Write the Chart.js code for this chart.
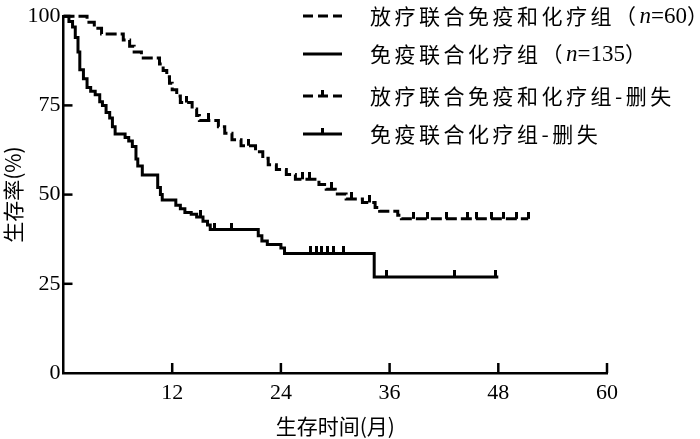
<!DOCTYPE html>
<html>
<head>
<meta charset="utf-8">
<script src="https://cdn.jsdelivr.net/npm/chart.js@4.4.0/dist/chart.umd.min.js"></script>
<style>
html,body{margin:0;padding:0;background:#fff;}
#wrap{width:700px;height:439px;}
</style>
</head>
<body>
<div id="wrap"><canvas id="kmChart" width="700" height="439"></canvas></div>
<script>
// 放疗联合免疫和化疗组 (n=60) - 生存时间(月) / 生存率(%)
var rtTimes = [0, 2.6, 3.4, 4.2, 6.6, 7.3, 7.8, 8.6, 10.6, 11.0, 11.4, 11.7, 12.0, 12.5, 12.9, 14.2, 14.7, 15.0,
               17.1, 17.8, 18.6, 19.6, 21.2, 22.0, 22.6, 23.5, 24.6, 25.6, 28.2, 29.0, 30.0, 31.2, 33.0, 34.4, 34.9, 36.9, 37.3];
var rtSurv  = [100, 98.3, 96.6, 95, 93.3, 91.6, 90, 88.3, 86.6, 84.8, 83, 81.2, 79.4, 77.6, 75.8, 74.0, 72.2, 70.8,
               69.0, 67.2, 65.4, 63.7, 62.0, 60.2, 58.4, 57.0, 55.6, 54.3, 52.8, 51.5, 50.2, 48.8, 47.8, 46.4, 45.3, 44.2, 43.2];
var rtEnd = 51.3;
var rtCensor = [13.6, 16.0, 20.4, 26.4, 27.2, 29.6, 31.8, 33.8, 38.6, 40.2, 42.3, 44.6, 45.6, 47.2, 48.6, 50.0, 51.3];

// 免疫联合化疗组 (n=135)
var icTimes = [0, 0.6, 1.0, 1.3, 1.6, 1.8, 2.2, 2.6, 3.0, 3.5, 4.0, 4.3, 4.7, 5.1, 5.4, 5.7, 6.8, 7.2, 7.6, 8.0, 8.2, 8.7,
               10.4, 10.7, 10.9, 12.4, 12.9, 13.4, 14.1, 14.7, 15.4, 15.9, 16.2, 21.5, 21.9, 22.5, 24.0, 24.4, 34.3];
var icSurv  = [100, 98.5, 97, 94, 90, 85, 82.5, 80, 79, 78, 76, 75, 73, 71.5, 69, 67, 66, 65, 63.5, 60, 58, 55.5,
               52, 50, 48.5, 47, 46, 45, 44.5, 43.7, 42.5, 41.5, 40.2, 38.5, 37, 36, 35, 33.5, 26.9];
var icEnd = 48.0;
var icCensor = [15.1, 16.7, 18.6, 27.3, 27.9, 28.5, 29.1, 29.8, 30.9, 35.7, 43.2, 47.7];

var xTicks = [12, 24, 36, 48, 60];
var yTicks = [0, 25, 50, 75, 100];

var legendLabels = [
  ['放疗联合免疫和化疗组（', 'n', '=60）'],
  ['免疫联合化疗组（', 'n', '=135）'],
  ['放疗联合免疫和化疗组-删失'],
  ['免疫联合化疗组-删失']
];

function stepPoints(times, surv, end){
  var pts = [];
  for(var i=0; i<times.length; i++){
    pts.push({x: times[i], y: surv[i]});
  }
  pts.push({x: end, y: surv[surv.length-1]});
  return pts;
}

// value of the step curve at time t
function levelAt(times, surv, t){
  var v = surv[0];
  for(var i=0; i<times.length; i++){
    if(times[i] <= t) v = surv[i];
  }
  return v;
}

function censorPoints(cTimes, times, surv){
  return cTimes.map(function(t){ return {x: t, y: levelAt(times, surv, t)}; });
}

// small tick that sits on top of the curve
var tickImg = document.createElement('canvas');
tickImg.width = 3;
tickImg.height = 14;
var tctx = tickImg.getContext('2d');
tctx.fillStyle = '#000';
tctx.fillRect(0, 0, 3, 7);

var innerTicks = {
  id: 'innerTicks',
  afterDraw: function(chart){
    var ctx = chart.ctx, xs = chart.scales.x, ys = chart.scales.y, a = chart.chartArea;
    ctx.save();
    ctx.strokeStyle = '#000';
    ctx.lineWidth = 2.5;
    xTicks.forEach(function(v){
      var px = xs.getPixelForValue(v);
      ctx.beginPath(); ctx.moveTo(px, a.bottom); ctx.lineTo(px, a.bottom - 10); ctx.stroke();
    });
    yTicks.forEach(function(v){
      if(v === 0) return;
      var py = ys.getPixelForValue(v);
      ctx.beginPath(); ctx.moveTo(a.left, py); ctx.lineTo(a.left + 9, py); ctx.stroke();
    });
    ctx.restore();
  }
};

var kmLegend = {
  id: 'kmLegend',
  afterDraw: function(chart){
    var ctx = chart.ctx;
    var rows = [16, 54, 96, 134];
    var x0 = 303, x1 = 342, tx = 370;
    ctx.save();
    ctx.strokeStyle = '#000';
    ctx.fillStyle = '#000';
    ctx.lineWidth = 3;
    rows.forEach(function(y, i){
      ctx.beginPath();
      ctx.setLineDash(i % 2 === 0 ? [10, 5] : []);
      ctx.moveTo(x0, y); ctx.lineTo(x1, y); ctx.stroke();
      ctx.setLineDash([]);
      if(i >= 2){
        ctx.fillRect((x0 + x1)/2 - 1.5, y - 6, 3, 6);
      }
      var parts = legendLabels[i];
      var x = tx;
      ctx.textBaseline = 'middle';
      parts.forEach(function(p, k){
        if(k === 1){
          ctx.font = 'italic 23px "Liberation Serif"';
          ctx.letterSpacing = '0px';
        } else if(k === 2){
          ctx.font = '23px "Liberation Serif"';
          ctx.letterSpacing = '0px';
        } else {
          ctx.font = '21px "Noto Sans CJK SC"';
          ctx.letterSpacing = '3.5px';
        }
        if(k === 2 && p.slice(-1) === '）'){
          var num = p.slice(0, -1);
          ctx.fillText(num, x, y + 1);
          x += ctx.measureText(num).width;
          ctx.font = '21px "Noto Sans CJK SC"';
          ctx.fillText('）', x, y);
          x += ctx.measureText('）').width;
        } else {
          ctx.fillText(p, x, k === 0 ? y : y + 1);
          x += ctx.measureText(p).width;
        }
      });
    });
    ctx.restore();
  }
};

var ctx = document.getElementById('kmChart').getContext('2d');
new Chart(ctx, {
  type: 'line',
  data: {
    datasets: [
      {
        label: '放疗联合免疫和化疗组',
        data: stepPoints(rtTimes, rtSurv, rtEnd),
        stepped: 'before',
        borderColor: '#000',
        borderWidth: 3,
        borderDash: [11, 4],
        pointRadius: 0,
        fill: false,
        clip: false
      },
      {
        label: '免疫联合化疗组',
        data: stepPoints(icTimes, icSurv, icEnd),
        stepped: 'before',
        borderColor: '#000',
        borderWidth: 3,
        pointRadius: 0,
        fill: false,
        clip: false
      },
      {
        type: 'scatter',
        label: '放疗联合免疫和化疗组-删失',
        data: censorPoints(rtCensor, rtTimes, rtSurv),
        pointStyle: tickImg,
        showLine: false
      },
      {
        type: 'scatter',
        label: '免疫联合化疗组-删失',
        data: censorPoints(icCensor, icTimes, icSurv),
        pointStyle: tickImg,
        showLine: false
      }
    ]
  },
  options: {
    responsive: false,
    animation: false,
    devicePixelRatio: 1,
    layout: { padding: { top: 12, right: 93, left: 0, bottom: 0 } },
    plugins: {
      legend: { display: false },
      tooltip: { enabled: false }
    },
    scales: {
      x: {
        type: 'linear',
        min: 0,
        max: 60,
        afterBuildTicks: function(scale){
          scale.ticks = xTicks.map(function(v){ return {value: v}; });
        },
        afterFit: function(scale){ scale.height = 66; },
        grid: { display: true, drawOnChartArea: false, drawTicks: false },
        border: { color: '#000', width: 2.5 },
        ticks: {
          color: '#000',
          padding: 7,
          maxRotation: 0,
          font: { family: '"Liberation Serif"', size: 22 }
        },
        title: {
          display: true,
          text: '生存时间(月)',
          color: '#000',
          padding: { top: 4, bottom: 0 },
          font: { family: '"Noto Sans CJK SC"', size: 21 }
        }
      },
      y: {
        min: 0,
        max: 100,
        afterBuildTicks: function(scale){
          scale.ticks = yTicks.map(function(v){ return {value: v}; });
        },
        afterFit: function(scale){ scale.width = 63.5; },
        grid: { display: true, drawOnChartArea: false, drawTicks: false },
        border: { color: '#000', width: 2.5 },
        ticks: {
          color: '#000',
          padding: 3,
          font: { family: '"Liberation Serif"', size: 22 }
        },
        title: {
          display: true,
          text: '生存率(%)',
          color: '#000',
          padding: { top: 0, bottom: 0 },
          font: { family: '"Noto Sans CJK SC"', size: 21 }
        }
      }
    }
  },
  plugins: [innerTicks, kmLegend]
});
</script>
</body>
</html>
